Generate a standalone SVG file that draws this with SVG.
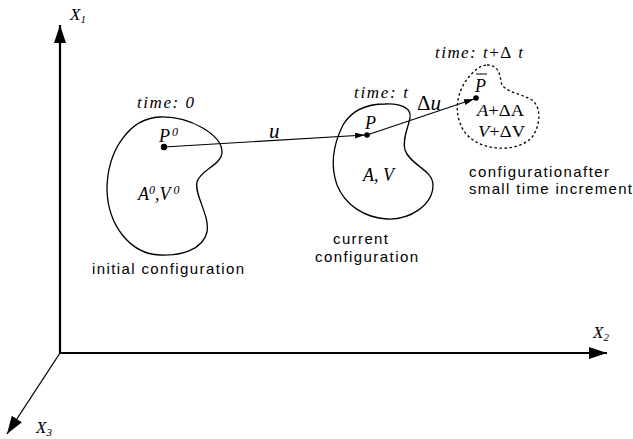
<svg xmlns="http://www.w3.org/2000/svg" width="633" height="439" viewBox="0 0 633 439">
<defs>
<style>
.it{font-family:"Liberation Serif","Times New Roman",serif;font-style:italic;font-size:17px;fill:#000}
.rm{font-family:"Liberation Serif","Times New Roman",serif;font-size:17px;fill:#000}
.sn{font-family:"Liberation Sans",Arial,sans-serif;font-size:15px;fill:#000}
.axis{stroke:#000;stroke-width:2.2;fill:none}
.blob{stroke:#000;stroke-width:1.3;fill:none}
.vec{stroke:#000;stroke-width:1.2;fill:none;marker-end:url(#sm)}
</style>
<marker id="big" viewBox="0 0 18 12" refX="18" refY="6" markerWidth="18" markerHeight="12" markerUnits="userSpaceOnUse" orient="auto"><path d="M0,0 L18,6 L0,12 Z" fill="#000"/></marker>
<marker id="sm" viewBox="0 0 10 6" refX="10" refY="3" markerWidth="10" markerHeight="6" markerUnits="userSpaceOnUse" orient="auto"><path d="M0,0 L10,3 L0,6 Z" fill="#000"/></marker>
</defs>
<g id="axes">
<line class="axis" x1="60" y1="353" x2="60" y2="25" marker-end="url(#big)"/>
<line class="axis" x1="59" y1="353" x2="607" y2="353" marker-end="url(#big)"/>
<line x1="60" y1="353" x2="7" y2="434" stroke="#000" stroke-width="1.3" marker-end="url(#big)"/>
<text class="it" x="70" y="20">X<tspan font-size="11" dy="3">1</tspan></text>
<text class="it" x="593" y="338">X<tspan font-size="11" dy="3">2</tspan></text>
<text class="it" x="36" y="433">X<tspan font-size="11" dy="3">3</tspan></text>
</g>
<g id="initial">
<path class="blob" d="M160,117 C190,116 222,135 222,152 C222,165 200,170 197,182 C194,195 210,215 207,232 C203,250 180,256 160,255 C130,254 108,225 107,190 C107,150 130,118 160,117 Z"/>
<circle cx="164" cy="147" r="3.2" fill="#000"/>
<text class="it" x="137" y="108" textLength="57" lengthAdjust="spacing">time: 0</text>
<text class="it" x="159" y="142" style="font-size:18px">P<tspan font-size="12" dy="-6" dx="2">0</tspan></text>
<text class="it" x="138" y="200" style="font-size:18px">A<tspan font-size="12" dy="-6">0</tspan><tspan dy="6">,V</tspan><tspan font-size="12" dy="-6" dx="3">0</tspan></text>
<text class="sn" x="92" y="274" textLength="152" lengthAdjust="spacing">initial configuration</text>
</g>
<g id="current">
<path class="blob" d="M385,104 C400,103 412,108 410,118 C408,128 402,140 405,150 C410,165 433,170 433,185 C433,205 410,220 387,219 C365,218 345,205 337,185 C330,165 333,145 343,125 C352,110 368,104 385,104 Z"/>
<circle cx="367" cy="135" r="2.8" fill="#000"/>
<text class="it" x="354" y="98" textLength="54" lengthAdjust="spacing">time: t</text>
<text class="it" x="365" y="129" style="font-size:18px">P</text>
<text class="it" x="363" y="181" style="font-size:18px">A, V</text>
<text class="sn" x="333" y="244" textLength="55" lengthAdjust="spacing">current</text>
<text class="sn" x="315" y="262" textLength="103" lengthAdjust="spacing">configuration</text>
</g>
<g id="after">
<path class="blob" stroke-dasharray="2.5,2.5" d="M487,65 C497,65 500,72 501,82 C503,92 520,93 532,100 C542,108 540,125 533,136 C525,146 510,149 498,148 C480,147 465,138 460,123 C455,110 457,95 465,82 C472,72 480,65 487,65 Z"/>
<circle cx="476" cy="98" r="2.8" fill="#000"/>
<text class="it" x="435" y="58" textLength="88" lengthAdjust="spacing">time: t<tspan class="rm" font-style="normal">+Δ</tspan> t</text>
<text class="it" x="475" y="92" style="font-size:18px">P</text>
<line x1="476" y1="74" x2="487" y2="74" stroke="#000" stroke-width="1"/>
<text class="it" x="477" y="116" textLength="47" lengthAdjust="spacingAndGlyphs">A<tspan class="rm" font-style="normal">+ΔA</tspan></text>
<text class="it" x="478" y="137" textLength="47" lengthAdjust="spacingAndGlyphs">V<tspan class="rm" font-style="normal">+ΔV</tspan></text>
<text class="sn" x="469" y="177" textLength="140" lengthAdjust="spacing">configurationafter</text>
<text class="sn" x="469" y="194" textLength="163" lengthAdjust="spacing">small time increment</text>
</g>
<g id="connectors">
<line class="vec" x1="164" y1="147" x2="365" y2="135"/>
<line class="vec" x1="367" y1="135" x2="474" y2="99"/>
<text class="it" x="269" y="138" style="font-size:21px">u</text>
<text x="417" y="110" style="font-family:'Liberation Serif',serif;font-size:21px">Δ<tspan style="font-style:italic">u</tspan></text>
</g>
</svg>
